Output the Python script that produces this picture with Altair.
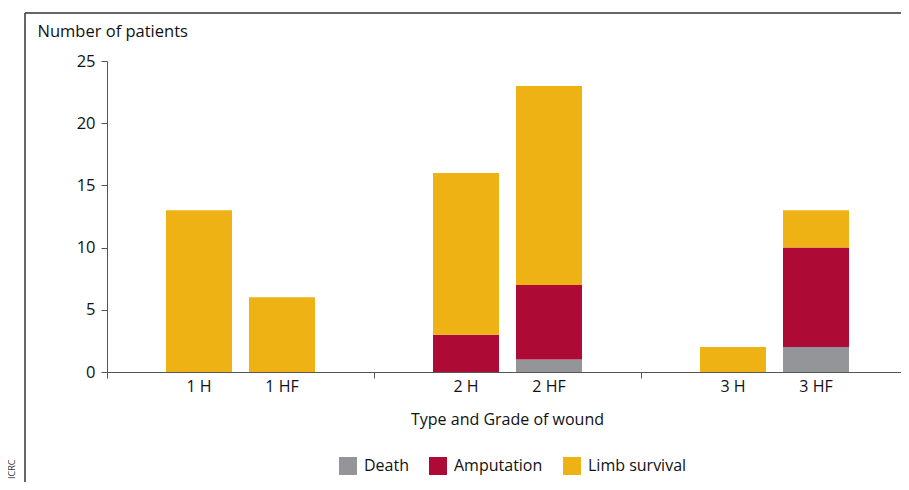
import altair as alt
import pandas as pd

# ---- data ----
groups = ["1", "1", "2", "2", "3", "3"]
subs = ["H", "HF", "H", "HF", "H", "HF"]
labels = ["1 H", "1 HF", "2 H", "2 HF", "3 H", "3 HF"]
death = [0, 0, 0, 1, 0, 2]
amputation = [0, 0, 3, 6, 0, 8]
limb_survival = [13, 6, 13, 16, 2, 3]
outcomes = ["Death", "Amputation", "Limb survival"]
colors = ["#939598", "#AE0A36", "#EEB215"]
y_ticks = [0, 5, 10, 15, 20, 25]

rows = []
for g, s, l, d, a, lv in zip(groups, subs, labels, death, amputation, limb_survival):
    for k, (o, v) in enumerate(zip(outcomes, [d, a, lv])):
        if v > 0:
            rows.append(dict(group=g, sub=s, label=l, outcome=o, ord=k, count=v))
df = pd.DataFrame(rows)
df_lbl = pd.DataFrame(dict(group=groups, sub=subs, label=labels))
one = pd.DataFrame(dict(a=[0]))

W, H = 794, 311      # visible plot area (page is 909 wide incl. 8px margins)
XR = 801             # x range runs to the page edge, as in the reference
FONT = "Open Sans"

x_enc = alt.X(
    "group:N",
    scale=alt.Scale(paddingInner=0, paddingOuter=0, range=[0, XR]),
    axis=alt.Axis(
        labels=False,
        title="Type and Grade of wound",
        titleX=400,
        bandPosition=0,
        tickSize=6,
        domainColor="#555555",
        tickColor="#555555",
        titlePadding=33,
        titleFontSize=16,
        titleFontWeight="normal",
        titleColor="#111111",
    ),
)
xoff_enc = alt.XOffset("sub:N", scale=alt.Scale(paddingInner=0.205, paddingOuter=0.711))

bars = alt.Chart(df).mark_bar(opacity=1).encode(
    x=x_enc,
    xOffset=xoff_enc,
    y=alt.Y(
        "count:Q",
        stack="zero",
        scale=alt.Scale(domain=[0, 25], nice=False),
        axis=alt.Axis(
            values=y_ticks,
            title="Number of patients",
            titleAngle=0,
            titleAlign="left",
            titleBaseline="middle",
            titleX=-70,
            titleY=-30,
            titleFontSize=16.5,
            titleFontWeight="normal",
            titleColor="#111111",
            tickSize=6,
            labelPadding=6,
            labelFontSize=16.5,
            labelColor="#111111",
            domainColor="#555555",
            tickColor="#555555",
            grid=False,
        ),
    ),
    color=alt.Color(
        "outcome:N",
        scale=alt.Scale(domain=outcomes, range=colors),
        legend=alt.Legend(
            orient="none",
            legendX=232,
            legendY=396,
            direction="horizontal",
            title=None,
            symbolType="square",
            symbolSize=324,
            symbolStrokeWidth=0,
            symbolOpacity=1,
            labelFontSize=16,
            labelColor="#111111",
            labelOffset=7,
            columnPadding=20,
        ),
    ),
    order=alt.Order("ord:Q", sort="ascending"),
)

xlabels = alt.Chart(df_lbl).mark_text(fontSize=16, baseline="middle", color="#111111").encode(
    x=alt.X("group:N"),
    xOffset=alt.XOffset("sub:N"),
    text="label:N",
    y=alt.value(H + 15),
)

frame_top = alt.Chart(one).mark_rule(color="#333333", strokeWidth=1.5).encode(
    x=alt.value(-82), x2=alt.value(W + 10), y=alt.value(-48)
)
frame_left = alt.Chart(one).mark_rule(color="#333333", strokeWidth=1.5).encode(
    x=alt.value(-82), y=alt.value(-48), y2=alt.value(H + 200)
)
credit = alt.Chart(one).mark_text(
    text="ICRC", angle=270, align="left", baseline="middle", fontSize=9, color="#333333"
).encode(x=alt.value(-95), y=alt.value(418))

chart = (
    alt.layer(bars, xlabels, frame_top, frame_left, credit)
    .properties(
        width=W,
        height=H,
        autosize=alt.AutoSizeParams(type="none"),
        padding={"left": 99, "top": 53, "right": 0, "bottom": 110},
    )
    .configure(font=FONT)
    .configure_view(stroke=None)
)

chart.save("out.html", embed_options={"renderer": "svg", "actions": False})
